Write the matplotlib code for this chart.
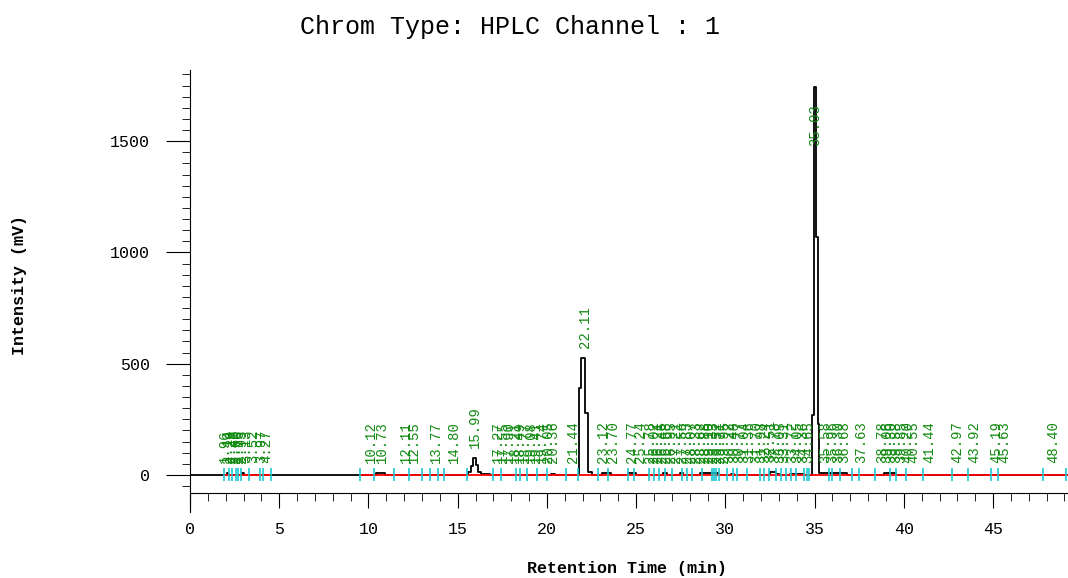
#!/usr/bin/env python

import matplotlib
matplotlib.use('Agg')
import matplotlib.pyplot as plt
from matplotlib.ticker import MultipleLocator, FixedLocator

# chromatogram trace (step style: value holds until next time)
trace_time = [0.0, 2.05, 2.15, 2.90, 3.00, 10.45, 10.95,
              15.60, 15.75, 15.88, 16.05, 16.15, 16.30, 16.80,
              20.25, 20.45, 21.80, 21.93, 22.15, 22.32, 22.55,
              23.10, 23.60, 24.55, 25.00, 26.50, 26.75, 27.45, 27.60,
              28.60, 29.60, 30.30, 30.50, 32.50, 32.85, 33.00, 33.60, 34.40,
              34.85, 34.96, 35.10, 35.18, 35.24, 36.80,
              38.90, 39.20, 39.55, 49.50]
trace_mv = [0, 8, 0, 8, 0, 8, 0,
            12, 40, 76, 45, 15, 6, 0,
            6, 0, 390, 525, 280, 15, 0,
            8, 0, 8, 0, 10, 0, 8, 0,
            8, 0, 6, 0, 14, 6, 0, 6, 0,
            270, 1745, 1070, 230, 8, 0,
            10, 10, 0, 0]

# integrated peaks: retention time (label) and apex height
peak_rt = [1.96, 2.14, 2.29, 2.45, 2.60, 2.76, 2.93, 3.13, 3.52, 3.97, 4.27,
           10.12, 10.73, 12.11, 12.55, 13.77, 14.80, 15.99,
           17.27, 17.55, 17.90, 18.21, 18.49, 18.77, 19.08, 19.41, 19.74, 20.05, 20.36, 21.44,
           22.11, 23.12, 23.70, 24.77, 25.24,
           25.78, 26.02, 26.21, 26.46, 26.68, 26.95, 27.21, 27.56, 27.83, 28.07,
           28.33, 28.62, 28.88, 29.10, 29.33, 29.52, 29.71, 29.95, 30.22, 30.48,
           30.77, 31.04, 31.36, 31.70, 31.98, 32.24, 32.51, 32.78, 33.05, 33.31,
           33.72, 34.05, 34.36, 34.65,
           35.03, 35.58, 35.96, 36.30, 36.68, 37.63, 38.78, 39.06, 39.30, 39.58,
           39.85, 40.20, 40.55, 41.44, 42.97, 43.92, 45.19, 45.63, 48.40]
peak_height = [3, 8, 2, 2, 2, 2, 8, 2, 2, 2, 2,
               3, 8, 2, 2, 2, 2, 76,
               3, 3, 3, 3, 3, 3, 3, 3, 3, 3, 6, 3,
               525, 8, 8, 8, 3,
               4, 4, 4, 6, 10, 4, 4, 8, 4, 4,
               4, 8, 8, 8, 8, 8, 4, 4, 4, 6,
               4, 4, 4, 4, 4, 4, 14, 8, 4, 6,
               6, 6, 4, 4,
               1745, 8, 8, 8, 4, 2, 4, 10, 10, 4,
               2, 2, 2, 2, 2, 2, 2, 2, 2]

# peak start / end markers
marker_rt = [1.91, 2.19, 2.37, 2.56, 2.71, 2.88, 3.31, 3.91, 4.09, 4.52,
             9.51, 10.31, 11.43, 12.28, 13.02, 13.44, 13.92, 14.24, 15.55,
             17.00, 17.40, 18.25, 18.50, 18.90, 19.46, 20.03, 21.06, 21.77,
             22.87, 23.44, 24.56, 24.90,
             25.73, 26.00, 26.29, 26.62, 27.03, 27.56, 27.87, 28.15, 28.68,
             29.24, 29.37, 29.50, 29.65, 30.11, 30.40, 30.68, 31.24, 31.93,
             32.17, 32.45, 32.83, 33.11, 33.39, 33.67, 33.95,
             34.40, 34.60, 34.70, 35.80, 35.95, 36.40, 37.07, 37.50, 38.40,
             39.20, 39.55, 40.10, 41.10, 42.70, 43.60, 44.90, 45.30, 47.80, 49.10]

# integration baseline segments
baseline_start = [1.91, 9.51]
baseline_end = [4.52, 49.50]


def plot_chrom(out='out.png'):
    plt.rcParams['font.family'] = ['Liberation Mono', 'DejaVu Sans Mono']
    fig = plt.figure(figsize=(10.68, 5.78), dpi=100)
    ax = fig.add_axes([0.1779, 0.1147, 0.8221, 0.7642])

    ax.plot(trace_time, trace_mv, color='black', lw=1.3, drawstyle='steps-post', zorder=2)
    ax.hlines([0] * len(baseline_start), baseline_start, baseline_end,
              color='#ff0000', lw=1.3, zorder=3)
    ax.vlines(marker_rt, -25, 30, color='#1ec8d2', lw=1.2, zorder=4)

    for rt, h in zip(peak_rt, peak_height):
        y = min(max(55, h + 45), 1480)
        ax.text(rt, y, '%.2f' % rt, rotation=90, ha='center', va='bottom',
                color='#118a11', fontsize=10, zorder=5)

    ax.set_xlim(0, 49.2)
    ax.set_ylim(-165, 1820)
    for side in ['top', 'right']:
        ax.spines[side].set_visible(False)
    ax.spines['bottom'].set_position(('data', -80))

    ax.xaxis.set_major_locator(MultipleLocator(5))
    ax.xaxis.set_minor_locator(MultipleLocator(1))
    ax.yaxis.set_major_locator(FixedLocator([0, 500, 1000, 1500]))
    ax.yaxis.set_minor_locator(FixedLocator(list(range(-50, 1801, 50))))
    ax.tick_params(axis='x', which='major', length=11, pad=10, labelsize=12)
    ax.tick_params(axis='x', which='minor', length=6)
    ax.tick_params(axis='y', which='major', length=17, pad=12, labelsize=12)
    ax.tick_params(axis='y', which='minor', length=6)

    fig.text(0.4775, 0.953, 'Chrom Type: HPLC Channel : 1', ha='center', va='center', fontsize=18)
    fig.text(0.587, 0.0173, 'Retention Time (min)', ha='center', va='center',
             fontsize=12, fontweight='bold')
    fig.text(0.0187, 0.507, 'Intensity (mV)', ha='center', va='center', rotation=90,
             fontsize=12, fontweight='bold')

    fig.savefig(out, dpi=100)


if __name__ == '__main__':
    assert len(trace_time) == len(trace_mv)
    assert len(peak_rt) == len(peak_height)
    plot_chrom()
